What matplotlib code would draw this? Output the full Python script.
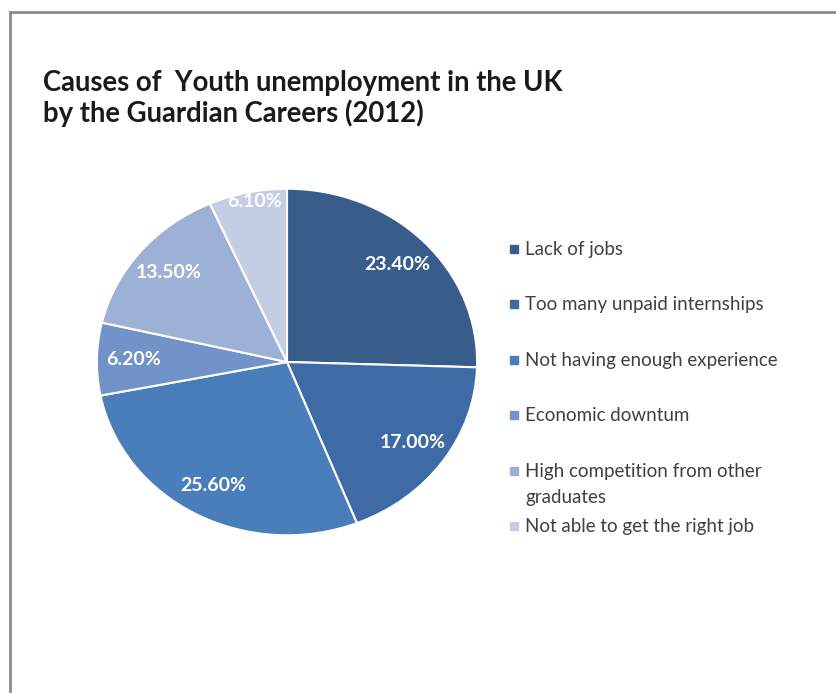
"""Causes of youth unemployment in the UK (Guardian Careers, 2012)"""
import numpy as np
import matplotlib.pyplot as plt
from matplotlib.lines import Line2D
from matplotlib.patches import Rectangle

title_lines = ['Causes of  Youth unemployment in the UK', 'by the Guardian Careers (2012)']
causes = [
    'Lack of jobs',
    'Too many unpaid internships',
    'Not having enough experience',
    'Economic downtum',
    'High competition from other\ngraduates',
    'Not able to get the right job',
]
shares = [23.40, 17.00, 25.60, 6.20, 13.50, 6.10]
colors = ['#385d8a', '#3e6aa6', '#4a7ebb', '#7193c9', '#9db1d6', '#c3cde3']

W, H = 837, 693
fig = plt.figure(figsize=(W / 100, H / 100), dpi=100)
fig.patch.set_facecolor('white')


def fy(y):
    """pixel row from the top -> figure fraction"""
    return 1 - y / H


# frame: only the top and left edges show
fig.add_artist(Line2D([10 / W, 10 / W], [0, fy(12)], color='#8c8c8c', lw=2))
fig.add_artist(Line2D([10 / W, 1], [fy(12), fy(12)], color='#8c8c8c', lw=2))

for k, line in enumerate(title_lines):
    fig.text(43 / W, fy(91 + 31 * k), line, family='Lato', weight='bold',
             fontsize=19.8, color='#1a1a1a', va='baseline', ha='left')

# pie, slightly stretched horizontally
cx, cy, rx, ry = 287, 362, 192, 175
ax = fig.add_axes([(cx - rx) / W, fy(cy + ry), 2 * rx / W, 2 * ry / H])
labels = iter(f'{v:.2f}%' for v in shares)
wedges, _, pct_texts = ax.pie(
    shares, colors=colors, startangle=90, counterclock=False,
    autopct=lambda p: next(labels), pctdistance=0.81,
    wedgeprops=dict(edgecolor='white', linewidth=1.5),
    textprops=dict(color='white', weight='bold', family='Lato', fontsize=14))

# the thin top slice carries its label up against the rim
w = wedges[-1]
mid = np.deg2rad((w.theta1 + w.theta2) / 2)
pct_texts[-1].set_position((0.82 * np.cos(mid), 0.995 * np.sin(mid)))
pct_texts[-1].set_va('top')

ax.set_aspect('auto')
ax.set_xlim(-1.01, 1.01)
ax.set_ylim(-1.01, 1.01)
ax.axis('off')

# legend drawn by hand so the wrapped entry keeps the regular step
y0, step, wrap = 255, 55.4, 26
for i, (name, c) in enumerate(zip(causes, colors)):
    base = y0 + step * i
    fig.add_artist(Rectangle((510 / W, fy(base - 2)), 8 / W, 8 / H,
                             color=c, transform=fig.transFigure))
    for k, part in enumerate(name.split('\n')):
        fig.text(525 / W, fy(base + wrap * k), part, family='Lato', fontsize=13.5,
                 color='#404040', va='baseline', ha='left')

fig.savefig('out.png', dpi=100)
